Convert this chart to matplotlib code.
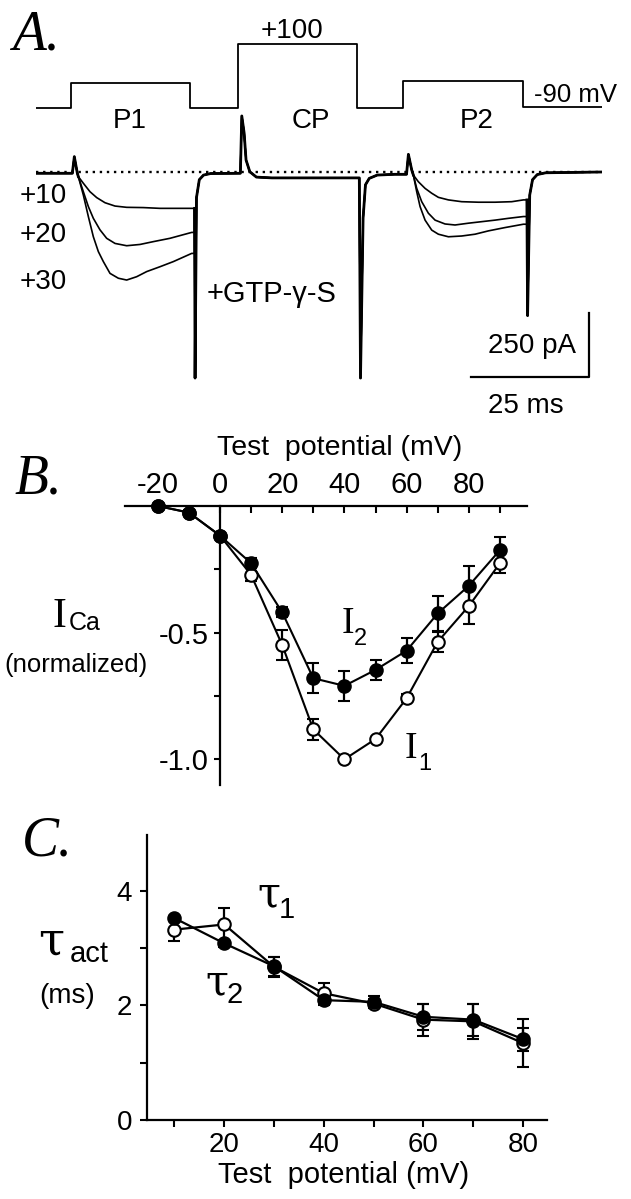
import numpy as np
import matplotlib
matplotlib.use("Agg")
import matplotlib.pyplot as plt
from matplotlib.ticker import FixedLocator

plt.rcParams['font.family'] = ['Liberation Sans', 'DejaVu Sans']
plt.rcParams['axes.unicode_minus'] = False

W, H = 631, 1199
SERIF = ['Liberation Serif', 'DejaVu Serif']

# ---------------- panel A: voltage protocol (schematic step levels) ----------------
proto_t = [0, 7.4, 7.4, 32.6, 32.6, 42.8, 42.8, 68.0, 68.0, 77.8, 77.8, 103.2, 103.2, 119.9]
proto_lvl = [0, 0, 1, 1, 0, 0, 2.56, 2.56, 0, 0, 1.08, 1.08, 0.04, 0.04]

# ---------------- panel A: currents, time in ms, current in pA ----------------
pre_t = [0, 7.7, 8.12, 8.76, 8.97]
pre_I = [-5, -5, 60, -5, -18]

p1_t = {
    '+10': [8.97, 10.03, 11.44, 12.86, 14.62, 16.74, 19.21, 22.74, 26.27, 29.81, 32.98, 33.6],
    '+20': [8.97, 10.03, 11.09, 12.15, 13.56, 14.97, 16.74, 19.21, 22.04, 24.86, 28.39, 32.98, 33.6],
    '+30': [8.97, 10.03, 11.09, 12.15, 13.21, 14.27, 15.68, 17.45, 19.21, 21.33, 23.45, 26.27, 29.10, 32.98, 33.6],
}
p1_I = {
    '+10': [-18, -44, -77, -100, -120, -133, -138, -139, -142, -142, -142, -142],
    '+20': [-18, -77, -135, -181, -226, -259, -279, -288, -283, -272, -259, -236, -236],
    '+30': [-18, -90, -174, -253, -311, -350, -396, -415, -422, -409, -389, -370, -350, -318, -318],
}

mid_t = [33.6, 33.7, 34.0, 34.6, 35.5, 37.0, 43.3, 43.6, 44.1, 44.5, 45.3, 46.7, 50, 68.5,
         68.75, 69.3, 69.8, 70.6, 72.3, 76, 78.5, 78.9, 79.6, 79.95]
mid_I = [-142, -805, -100, -30, -12, -6, -5, 219, 152, 47, 1, -20, -23, -23,
         -805, -180, -50, -25, -12, -9, -9, 69, 8, -12]

p2_t = {
    '+10': [79.95, 81.01, 82.43, 83.84, 85.25, 87.37, 90.20, 93.73, 97.26, 100.79, 103.26, 104.0],
    '+20': [79.95, 80.66, 81.72, 83.13, 84.55, 86.66, 88.78, 91.61, 94.43, 97.26, 100.08, 103.26, 104.0],
    '+30': [79.95, 80.66, 81.37, 82.43, 83.84, 85.25, 87.37, 90.20, 93.02, 95.85, 99.38, 103.26, 104.0],
}
p2_I = {
    '+10': [-12, -38, -64, -83, -99, -109, -116, -118, -118, -116, -109, -109],
    '+20': [-12, -64, -116, -161, -188, -203, -207, -200, -194, -188, -181, -174, -174],
    '+30': [-12, -77, -135, -188, -227, -243, -253, -250, -243, -230, -217, -204, -204],
}

post_t = [104.0, 104.15, 104.6, 105.2, 106.2, 108, 119.9]
post_I = [-109, -561, -90, -30, -10, -3, 0]

sweeps = ['+10', '+20', '+30']
scalebar_t = [92.2, 117.2, 117.2]
scalebar_I = [-801, -801, -551]

# ---------------- panel B: normalized I-V ----------------
iv_v = [-20, -10, 0, 10, 20, 30, 40, 50, 60, 70, 80, 90]
i1 = [0, -0.026, -0.117, -0.272, -0.549, -0.882, -1.0, -0.92, -0.759, -0.536, -0.395, -0.226]
i1_err = [0, 0, 0.01, 0.026, 0.06, 0.04, 0, 0, 0.015, 0.04, 0.07, 0.04]
i2 = [0, -0.026, -0.117, -0.226, -0.42, -0.68, -0.71, -0.647, -0.571, -0.424, -0.315, -0.174]
i2_err = [0, 0.01, 0.01, 0.02, 0.02, 0.06, 0.06, 0.04, 0.048, 0.07, 0.08, 0.05]

# ---------------- panel C: activation time constants ----------------
tau_v = [10, 20, 30, 40, 50, 60, 70, 80]
tau1 = [3.32, 3.41, 2.67, 2.21, 2.03, 1.75, 1.72, 1.34]
tau1_err = [0.19, 0.29, 0.17, 0.18, 0.08, 0.28, 0.31, 0.42]
tau2 = [3.52, 3.08, 2.68, 2.09, 2.06, 1.80, 1.75, 1.41]
tau2_err = [0.03, 0.06, 0.17, 0.09, 0.1, 0.23, 0.28, 0.2]


fig = plt.figure(figsize=(W / 100, H / 100), dpi=100)


def box(x0, y0, x1, y1):
    # pixel box -> figure fraction rect
    return [x0 / W, 1 - y1 / H, (x1 - x0) / W, (y1 - y0) / H]


def ftext(x, y, s, **kw):
    kw.setdefault('va', 'baseline')
    fig.text(x / W, 1 - y / H, s, **kw)


# ----- A -----
ax_v = fig.add_axes(box(36, 10, 602.4, 140))
ax_v.plot(proto_t, proto_lvl, color='k', lw=1.3)
ax_v.set_xlim(0, 120)
ax_v.set_ylim(-1.28, 3.92)
ax_v.axis('off')

ax_i = fig.add_axes(box(36, 100, 602.4, 420))
ax_i.patch.set_alpha(0)
ax_i.plot([0, 119.5], [0, 0], color='k', lw=1.7, linestyle=(0, (1, 2.0)))
for s in sweeps:
    t = pre_t + p1_t[s] + mid_t + p2_t[s] + post_t
    cur = pre_I + p1_I[s] + mid_I + p2_I[s] + post_I
    ax_i.plot(t, cur, color='k', lw=1.2)
for t, cur in [(pre_t, pre_I), (mid_t, mid_I), (post_t, post_I)]:
    ax_i.plot(t, cur, color='k', lw=2.0)
ax_i.plot(scalebar_t, scalebar_I, color='k', lw=1.6)
ax_i.set_xlim(0, 120)
ax_i.set_ylim(-968.75, 281.25)
ax_i.axis('off')

ftext(12, 50, 'A.', family=SERIF, style='italic', fontsize=40)
ftext(292, 38, '+100', ha='center', fontsize=20)
ftext(534, 102, '-90 mV', fontsize=18.5)
ftext(130, 128, 'P1', ha='center', fontsize=20)
ftext(311, 128, 'CP', ha='center', fontsize=20)
ftext(477, 128, 'P2', ha='center', fontsize=20)
ftext(20, 203, '+10', fontsize=20)
ftext(20, 242, '+20', fontsize=20)
ftext(20, 289, '+30', fontsize=20)
ftext(207, 302, '+GTP-\u03b3-S', fontsize=21)
ftext(488, 353, '250 pA', fontsize=20)
ftext(488, 413, '25 ms', fontsize=20)

# ----- B -----
ax_b = fig.add_axes(box(125, 506, 527, 785))
ax_b.patch.set_alpha(0)
for y, e, face in [(i1, i1_err, 'white'), (i2, i2_err, 'k')]:
    cont = ax_b.errorbar(iv_v, y, yerr=e, fmt='-o', color='k', mfc=face, mec='k',
                         ms=9, mew=1.5, lw=1.5, elinewidth=1.6, capsize=4.5, capthick=1.6)
    for art in cont.get_children():
        art.set_clip_on(False)
ax_b.set_xlim(-30.55, 98.7)
ax_b.set_ylim(-1.1015, 0)
ax_b.spines['bottom'].set_visible(False)
ax_b.spines['right'].set_visible(False)
ax_b.spines['left'].set_position(('data', 0))
for sp in ['top', 'left']:
    ax_b.spines[sp].set_linewidth(1.6)
ax_b.xaxis.tick_top()
ax_b.xaxis.set_major_locator(FixedLocator([-20, 0, 20, 40, 60, 80]))
ax_b.xaxis.set_minor_locator(FixedLocator([-10, 10, 30, 50, 70, 90]))
ax_b.yaxis.set_major_locator(FixedLocator([-0.5, -1.0]))
ax_b.yaxis.set_minor_locator(FixedLocator([-0.25, -0.75]))
ax_b.set_xticklabels(['-20', '0', '20', '40', '60', '80'])
ax_b.set_yticklabels(['-0.5', '-1.0'])
ax_b.tick_params(axis='x', which='both', direction='in', length=5, width=1.5, pad=5, labelsize=21)
ax_b.tick_params(axis='y', which='both', direction='out', length=4, width=1.5, pad=4, labelsize=21)

ftext(14, 493, 'B.', family=SERIF, style='italic', fontsize=40)
ftext(340, 455, 'Test  potential (mV)', ha='center', fontsize=20.5)
ftext(53, 627, 'I', family=SERIF, fontsize=30)
ftext(69, 630, 'Ca', fontsize=18)
ftext(76, 672, '(normalized)', ha='center', fontsize=18.5)
ftext(342, 633, 'I', family=SERIF, fontsize=27)
ftext(354, 645, '2', fontsize=17)
ftext(405, 758, 'I', family=SERIF, fontsize=27)
ftext(418, 770, '1', fontsize=17)

# ----- C -----
ax_c = fig.add_axes(box(147.3, 835, 547, 1120))
ax_c.patch.set_alpha(0)
for y, e, face in [(tau1, tau1_err, 'white'), (tau2, tau2_err, 'k')]:
    cont = ax_c.errorbar(tau_v, y, yerr=e, fmt='-o', color='k', mfc=face, mec='k',
                         ms=9, mew=1.5, lw=1.6, elinewidth=1.6, capsize=4.5, capthick=1.6)
    for art in cont.get_children():
        art.set_clip_on(False)
ax_c.set_xlim(4.54, 84.8)
ax_c.set_ylim(0, 4.97)
ax_c.spines['top'].set_visible(False)
ax_c.spines['right'].set_visible(False)
for sp in ['bottom', 'left']:
    ax_c.spines[sp].set_linewidth(1.6)
ax_c.xaxis.set_major_locator(FixedLocator([20, 40, 60, 80]))
ax_c.xaxis.set_minor_locator(FixedLocator([10, 30, 50, 70]))
ax_c.yaxis.set_major_locator(FixedLocator([0, 2, 4]))
ax_c.yaxis.set_minor_locator(FixedLocator([1, 3]))
ax_c.tick_params(which='both', direction='out', length=5, width=1.5, labelsize=20)
ax_c.tick_params(axis='x', pad=4)
ax_c.tick_params(axis='y', pad=6)

ftext(22, 855, 'C.', family=SERIF, style='italic', fontsize=40)
ftext(38, 954, '\u03c4', family='DejaVu Serif', fontsize=34)
ftext(70, 962, 'act', fontsize=21)
ftext(67, 1003, '(ms)', ha='center', fontsize=20)
ftext(257, 906, '\u03c4', family='DejaVu Serif', fontsize=30)
ftext(279, 918, '1', fontsize=21)
ftext(205, 994, '\u03c4', family='DejaVu Serif', fontsize=30)
ftext(227, 1003, '2', fontsize=21)
ftext(344, 1183, 'Test  potential (mV)', ha='center', fontsize=21)

fig.savefig('out.png', dpi=100)
